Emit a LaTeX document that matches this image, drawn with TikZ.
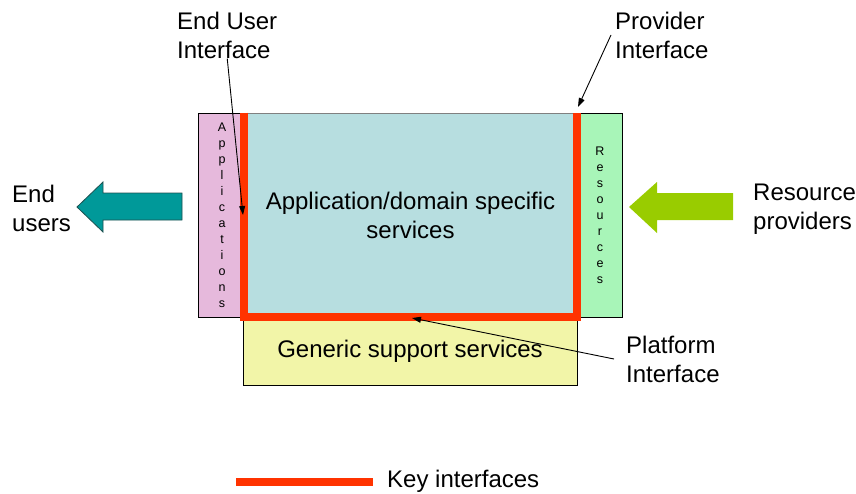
\documentclass[tikz,border=0pt]{standalone}
\usepackage{fontspec}
\setmainfont{Liberation Sans}
\usetikzlibrary{arrows.meta}
\definecolor{apppink}{RGB}{230,185,220}
\definecolor{coreblue}{RGB}{183,222,224}
\definecolor{resgreen}{RGB}{168,245,184}
\definecolor{genyellow}{RGB}{242,245,168}
\definecolor{keyred}{RGB}{255,51,0}
\definecolor{tealarrow}{RGB}{0,153,153}
\definecolor{tealedge}{RGB}{30,80,80}
\definecolor{limearrow}{RGB}{153,204,0}
\begin{document}
\begin{tikzpicture}[x=1pt,y=-1pt,
  box/.style={draw=black, line width=0.8pt, inner sep=0pt},
  label/.style={font=\fontsize{24}{29}\selectfont, align=left, inner sep=4pt, anchor=west},
  vert/.style={font=\fontsize{12.5}{16}\selectfont, align=center, inner sep=0pt},
  ptr/.style={draw=black, line width=0.9pt, -{Triangle[length=9pt,width=6pt]}},
  iface/.style={draw=keyred, line width=8pt, line join=miter, line cap=butt}]
\useasboundingbox (0,0) rectangle (856,493);

% boxes
\node[box, fill=apppink, minimum width=44pt, minimum height=204pt] (apps) at (220,215) {};
\node[box, fill=resgreen, minimum width=45pt, minimum height=204pt] (res) at (599.5,215) {};
\node[box, fill=genyellow, minimum width=334pt, minimum height=68pt,
      font=\fontsize{24}{29}\selectfont] (generic) at (410,351) {Generic support services};
\node[box, draw=gray, fill=coreblue, minimum width=333pt, minimum height=204pt,
      font=\fontsize{24}{29}\selectfont, align=center] (core) at (410.5,215)
      {Application/domain specific\\services};

% vertical letters
\node[vert] (appstext) at (222,215) {A\\p\\p\\l\\i\\c\\a\\t\\i\\o\\n\\s};
\node[vert] (restext) at (600,215) {R\\e\\s\\o\\u\\r\\c\\e\\s};

% key interfaces
\draw[iface] (core.north west) -- (core.south west) -- (core.south east) -- (core.north east);

% block arrows
\filldraw[fill=tealarrow, draw=tealedge, line width=0.8pt]
  (77,207) -- (103,182) -- (103,193) -- (182,193) -- (182,220) -- (103,220) -- (103,232) -- cycle;
\fill[limearrow]
  (629,207) -- (657,182) -- (657,193) -- (733,193) -- (733,220) -- (657,220) -- (657,233) -- cycle;

% labels
\node[label] (eu) at (8,208) {End\\users};
\node[label] (eui) at (173,35) {End User\\Interface};
\node[label] (pi) at (611,35) {Provider\\Interface};
\node[label] (pf) at (622,359) {Platform\\Interface};
\node[label] (rp) at (749,209) {Resource\\providers};
\node[label] (key) at (383,481) {Key interfaces};

% pointers
\coordinate (euitip) at (243,215);
\coordinate (pitip) at (578,107);
\coordinate (pftip) at (412,318);
\draw[ptr] ([yshift=4pt]eui.south) -- (euitip);
\draw[ptr] (pi.west) -- (pitip);
\draw[ptr] ([xshift=-8pt]pf.west) -- (pftip);

% legend line
\draw[iface] (236,482) -- (373,482);
\end{tikzpicture}
\end{document}
